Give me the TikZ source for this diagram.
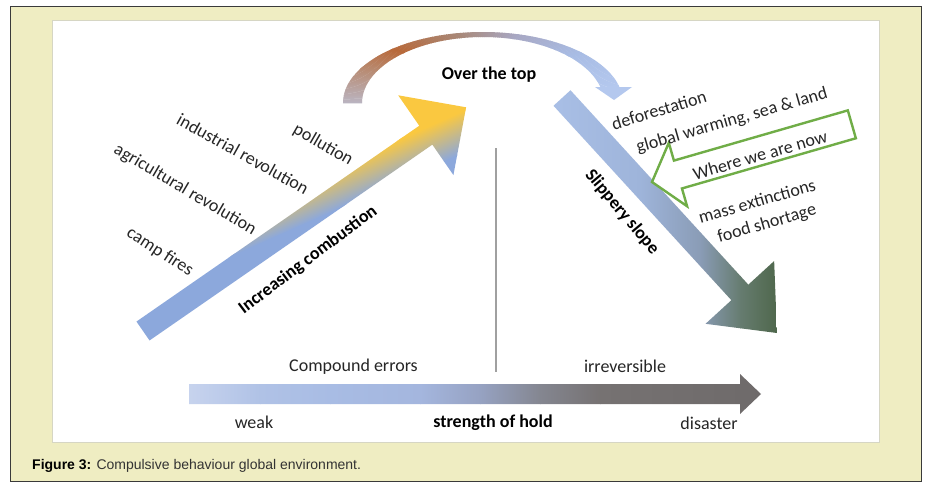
\documentclass[tikz,border=0pt]{standalone}
\usepackage{fontspec}
\setmainfont{Carlito}
\newfontfamily\capfont{Liberation Sans}
\definecolor{framebg}{HTML}{EFEDC2}
\definecolor{framebd}{HTML}{3A3A3A}
\definecolor{panelbd}{HTML}{D6D6C4}
\definecolor{txtgray}{HTML}{262626}
\definecolor{capgray}{HTML}{333333}
\definecolor{upblue}{HTML}{8CA8DC}
\definecolor{upyellow}{HTML}{FAC840}
\definecolor{dA}{HTML}{A9BFE6}
\definecolor{dB}{HTML}{9EB4DA}
\definecolor{dC}{HTML}{8A9CB6}
\definecolor{dD}{HTML}{667C70}
\definecolor{dE}{HTML}{47603F}
\definecolor{bA}{HTML}{C8D4EE}
\definecolor{bB}{HTML}{B0C2E6}
\definecolor{bC}{HTML}{A8BCE4}
\definecolor{bD}{HTML}{A4B6DE}
\definecolor{bE}{HTML}{96A2C2}
\definecolor{bF}{HTML}{848690}
\definecolor{bG}{HTML}{767272}
\definecolor{bH}{HTML}{6E6A6A}
\definecolor{caA}{HTML}{B4C8EE}
\definecolor{caB}{HTML}{A8BCE4}
\definecolor{caC}{HTML}{A8A8C4}
\definecolor{caD}{HTML}{A88878}
\definecolor{caE}{HTML}{B8693A}
\definecolor{caF}{HTML}{B88A70}
\definecolor{caG}{HTML}{BAB4C0}
\definecolor{wgreen}{HTML}{70AD47}
\definecolor{vgray}{HTML}{A0A0A0}
\newcommand\bandseg[4]{%
  \foreach \a in {#1,...,#2}{%
    \pgfmathsetmacro\pp{100*(\a-#1)/(#2-#1)}%
    \fill[#4!\pp!#3] ({483+140*cos(\a)},{103-71*sin(\a)}) -- ({483+140*cos(\a+1.3)},{103-71*sin(\a+1.3)}) -- ({483+121*cos(\a+1.3)},{103-66*sin(\a+1.3)}) -- ({483+121*cos(\a)},{103-66*sin(\a)}) -- cycle;}}
\begin{document}
\begin{tikzpicture}[x=1pt,y=-1pt,
  txt/.style={font=\fontsize{18}{20}\selectfont, text=txtgray, inner sep=0pt},
  btxt/.style={font=\fontsize{18}{20}\selectfont\bfseries, text=black, inner sep=0pt},
  vline/.style={draw=vgray, line width=1.2pt}]
\useasboundingbox (0,0) rectangle (932,488);
\fill[white] (0,0) rectangle (932,488);
\draw[fill=framebg, draw=framebd, line width=1pt] (10.5,6.5) rectangle (921,481);
\draw[fill=white, draw=panelbd, line width=0.8pt] (52,20) rectangle (879,442);

% top curved arrow
\bandseg{13}{45}{caA}{caB}
\bandseg{45}{75}{caB}{caC}
\bandseg{75}{100}{caC}{caD}
\bandseg{100}{130}{caD}{caE}
\bandseg{130}{150}{caE}{caF}
\bandseg{150}{179}{caF}{caG}
\fill[caA] (595,87) -- (632,87) -- (614,100) -- cycle;

% rising arrow
\begin{scope}
\clip[shift={(143,331)}, rotate=34.7] (0,-11.5) -- (344,-11.5) -- (344,-48.5) -- (393,0) -- (344,48.5) -- (344,11.5) -- (0,11.5) -- cycle;
\begin{scope}[transform canvas={rotate around={24:(400,190)}}]
\fill[upblue] (0,181) rectangle (900,700);
\fill[upyellow] (0,-300) rectangle (900,144);
\shade[top color=upyellow, bottom color=upblue] (0,143) rectangle (900,182);
\end{scope}
\end{scope}

% descending arrow
\begin{scope}
\clip[shift={(562,98)}, rotate=-47.55] (0,-11.5) -- (263.5,-11.5) -- (263.5,-46.5) -- (318.5,0) -- (263.5,46.5) -- (263.5,11.5) -- (0,11.5) -- cycle;
\fill[dA] (500,50) rectangle (551,400);
\shade[left color=dA, right color=dB] (550,50) rectangle (640.5,400);
\shade[left color=dB, right color=dC] (640,50) rectangle (700.5,400);
\shade[left color=dC, right color=dD] (700,50) rectangle (740.5,400);
\shade[left color=dD, right color=dE] (740,50) rectangle (790,400);
\end{scope}

% bottom arrow
\begin{scope}
\clip (189,384) -- (740,384) -- (740,374) -- (761,394) -- (740,414) -- (740,404) -- (189,404) -- cycle;
\shade[left color=bA, right color=bB] (185,370) rectangle (260.5,420);
\shade[left color=bB, right color=bC] (260,370) rectangle (330.5,420);
\shade[left color=bC, right color=bD] (330,370) rectangle (420.5,420);
\shade[left color=bD, right color=bE] (420,370) rectangle (480.5,420);
\shade[left color=bE, right color=bF] (480,370) rectangle (540.5,420);
\shade[left color=bF, right color=bG] (540,370) rectangle (600.5,420);
\shade[left color=bG, right color=bH] (600,370) rectangle (765,420);
\end{scope}

% vertical divider
\coordinate (vtop) at (496,148);
\coordinate (vbot) at (496,372);
\draw[vline] (vtop) -- (vbot);

% green arrow
\draw[draw=wgreen, fill=white, line width=2.4pt, line join=miter, shift={(652,182)}, rotate=16.1]
  (0,0) -- (27,-33) -- (27,-14.5) -- (208,-14.5) -- (208,14.5) -- (27,14.5) -- (27,33) -- cycle;

% texts
\node[btxt] (over) at (489,75) {Over the top};
\node[txt, rotate=-30] (poll) at (323,145) {pollution};
\node[txt, rotate=-29] (ind) at (243,154) {industrial revolution};
\node[txt, rotate=-30.5] (agr) at (185,190) {agricultural revolution};
\node[txt, rotate=-33] (camp) at (160,252) {camp fires};
\node[btxt, rotate=37] (incr) at (308,260) {Increasing combustion};
\node[btxt, rotate=-50] (slip) at (622,212) {Slippery slope};
\node[txt, rotate=17] (defo) at (659,110) {deforestation};
\node[txt, rotate=16] (glob) at (732,121) {global warming, sea \& land};
\node[txt, rotate=16] (where) at (760,155) {Where we are now};
\node[txt, rotate=16] (mass) at (757,201) {mass extinctions};
\node[txt, rotate=16] (food) at (767,224) {food shortage};
\node[txt] (comp) at (353.5,367) {Compound errors};
\node[txt] (irr) at (625,366) {irreversible};
\node[txt] (weak) at (254,422) {weak};
\node[btxt] (hold) at (493,423) {strength of hold};
\node[txt] (dis) at (709,423) {disaster};
\node[anchor=base west, inner sep=0pt, font=\capfont\fontsize{14}{16}\selectfont, text=capgray] (cap) at (32,469) {\textbf{\color{black}Figure 3:} Compulsive behaviour global environment.};
\end{tikzpicture}
\end{document}
